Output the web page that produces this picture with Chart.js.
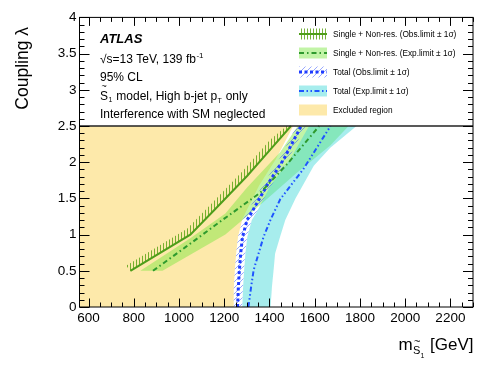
<!DOCTYPE html>
<html lang="en">
<head>
<meta charset="utf-8">
<script src="https://cdn.jsdelivr.net/npm/chart.js@4.4.1/dist/chart.umd.min.js"></script>
<style>
    body { margin: 0; background: #fff; }
    #chartBox { position: relative; width: 498px; height: 366px; }
</style>
</head>
<body>
<div id="chartBox"><canvas id="limitChart" width="498" height="366"></canvas></div>

<script>
    // axis tick labels
    const xTicks = [600, 800, 1000, 1200, 1400, 1600, 1800, 2000, 2200];
    const yTicks = [0, 0.5, 1, 1.5, 2, 2.5, 3, 3.5, 4];

    // Single + Non-res. : observed limit and its hatched side
    const singleObsX = [785, 1050, 1153, 1301, 1419, 1495];
    const singleObsY = [0.5, 1.0, 1.33, 1.81, 2.23, 2.5];
    const singleHatchX = [766, 1036, 1138, 1285, 1403, 1476];
    const singleHatchY = [0.57, 1.08, 1.41, 1.89, 2.31, 2.5];

    // Single + Non-res. : expected limit and ±1σ band
    const singleExpX = [885, 1030, 1200, 1360, 1480, 1620];
    const singleExpY = [0.5, 0.83, 1.22, 1.58, 1.98, 2.5];
    const singleUpX = [829, 1050, 1205, 1301, 1448, 1525];
    const singleUpY = [0.5, 0.95, 1.29, 1.65, 2.14, 2.5];
    const singleDnX = [927, 1205, 1374, 1520, 1669, 1750];
    const singleDnY = [0.5, 1.0, 1.45, 1.85, 2.23, 2.5];

    // Total : observed limit with ±1σ (same couplings for every edge)
    const totalObsY = [0, 0.25, 0.51, 0.75, 0.97, 1.2, 1.31, 1.68, 2.04, 2.5];
    const totalObsX = [1259, 1262, 1267, 1273, 1281, 1301, 1322, 1389, 1463, 1540];
    const totalObsLoX = [1239, 1242, 1247, 1253, 1261, 1281, 1302, 1369, 1443, 1520];
    const totalObsHiX = [1279, 1282, 1287, 1293, 1301, 1321, 1342, 1409, 1483, 1560];
    // excluded region edge
    const excludedX = [1239, 1242, 1247, 1253, 1261, 1279, 1295, 1355, 1428, 1505];

    // Total : expected limit and ±1σ band
    const totalExpX = [1307, 1319, 1330, 1352, 1374, 1404, 1448, 1551, 1670];
    const totalExpY = [0, 0.28, 0.51, 0.74, 0.97, 1.2, 1.49, 1.91, 2.5];
    const totalBandLoX = [1280, 1283, 1288, 1294, 1302, 1322, 1343, 1405, 1492, 1575];
    const totalBandHiX = [1405, 1411, 1418, 1425, 1447, 1470, 1515, 1596, 1669, 1785];
    const totalBandHiY = [0, 0.28, 0.5, 0.74, 0.97, 1.2, 1.5, 1.95, 2.2, 2.5];

    const xMin = 560, xMax = 2300, yMin = 0, yMax = 4, frameCut = 2.5;

    const FONT = '"Liberation Sans", Arial, Helvetica, sans-serif';

    const colYellow = '#fde9aa';
    const colGreenBand = 'rgba(120,230,60,0.45)';
    const colCyanBand = 'rgba(60,215,215,0.45)';
    const colSingleObs = '#4f9e1a';
    const colSingleExp = '#2e9a2e';
    const colTotalObs = '#1f3cff';
    const colTotalExp = '#1f55ff';

    const dashSingleExp = [5, 3, 1.5, 3];
    const dashTotalObs = [3, 2.5];
    const dashTotalExp = [5, 2.5, 1.5, 2.5, 1.5, 2.5];

    function pts(xs, ys) {
        return xs.map((x, i) => ({ x: x, y: ys[i] }));
    }

    function band(xa, ya, xb, yb) {
        return pts(xa, ya).concat(pts(xb, yb).reverse());
    }

    // hatch patterns
    function makePattern(kind) {
        const c = document.createElement('canvas');
        const g = c.getContext('2d');
        if (kind === 'vert') {
            c.width = 3; c.height = 6;
            g.fillStyle = 'rgba(95,165,25,0.85)';
            g.fillRect(1, 0, 1, 6);
        } else {
            c.width = 6; c.height = 6;
            g.strokeStyle = 'rgba(60,90,255,0.75)';
            g.lineWidth = 0.7;
            g.beginPath();
            g.moveTo(-1, 7); g.lineTo(7, -1);
            g.moveTo(-1, 1); g.lineTo(1, -1);
            g.moveTo(5, 7); g.lineTo(7, 5);
            g.stroke();
        }
        return g.createPattern(c, 'repeat');
    }

    const hatchGreen = makePattern('vert');
    const hatchBlue = makePattern('diag');

    const shape = (data, color, order) => ({
        data: data, fill: 'shape', backgroundColor: color,
        borderWidth: 0, borderColor: 'rgba(0,0,0,0)', order: order
    });

    const curve = (data, color, width, dash, order) => ({
        data: data, fill: false, borderColor: color, borderWidth: width,
        borderDash: dash, order: order
    });

    const excludedShape = [{ x: xMin, y: 0 }]
        .concat(pts(excludedX, totalObsY))
        .concat([{ x: xMin, y: frameCut }]);

    const datasets = [
        curve([{ x: xMin, y: frameCut }, { x: xMax, y: frameCut }], '#222', 1.5, [], 0),
        curve(pts(singleObsX, singleObsY), colSingleObs, 2, [], 1),
        curve(pts(singleExpX, singleExpY), colSingleExp, 2, dashSingleExp, 2),
        curve(pts(totalObsX, totalObsY), colTotalObs, 3, dashTotalObs, 3),
        curve(pts(totalExpX, totalExpY), colTotalExp, 2, dashTotalExp, 4),
        shape(band(totalObsLoX, totalObsY, totalObsHiX, totalObsY), hatchBlue, 6),
        shape(band(singleObsX, singleObsY, singleHatchX, singleHatchY), hatchGreen, 7),
        shape(band(totalBandLoX, totalObsY, totalBandHiX, totalBandHiY), colCyanBand, 8),
        shape(band(singleUpX, singleUpY, singleDnX, singleDnY), colGreenBand, 9),
        shape(excludedShape, colYellow, 10)
    ];

    const legendRows = [
        { text: 'Single + Non-res. (Obs.limit \u00b1 1\u03c3)', fill: hatchGreen, line: colSingleObs, width: 2, dash: [] },
        { text: 'Single + Non-res. (Exp.limit \u00b1 1\u03c3)', fill: colGreenBand, line: colSingleExp, width: 2, dash: dashSingleExp },
        { text: 'Total (Obs.limit \u00b1 1\u03c3)', fill: hatchBlue, line: colTotalObs, width: 3, dash: dashTotalObs },
        { text: 'Total (Exp.limit \u00b1 1\u03c3)', fill: colCyanBand, line: colTotalExp, width: 2, dash: dashTotalExp },
        { text: 'Excluded region', fill: colYellow, line: null }
    ];

    function seg(ctx, x1, y1, x2, y2) {
        ctx.beginPath();
        ctx.moveTo(x1, y1);
        ctx.lineTo(x2, y2);
        ctx.stroke();
    }

    const framePlugin = {
        id: 'frame',
        afterDraw(chart) {
            const { ctx, chartArea: a, scales: { x, y } } = chart;
            ctx.save();
            ctx.strokeStyle = '#000';
            ctx.lineWidth = 1;
            ctx.setLineDash([]);
            ctx.strokeRect(a.left, a.top, a.right - a.left, a.bottom - a.top);

            // ticks on all four sides, inside the frame
            for (let v = 600; v <= xMax; v += 50) {
                const px = Math.round(x.getPixelForValue(v)) + 0.5;
                const len = v % 200 === 0 ? 8.5 : 4.5;
                seg(ctx, px, a.bottom, px, a.bottom - len);
                seg(ctx, px, a.top, px, a.top + len);
            }
            for (let i = 0; i <= 40; i++) {
                const py = Math.round(y.getPixelForValue(i / 10)) + 0.5;
                const len = i % 5 === 0 ? 10 : 5;
                seg(ctx, a.left, py, a.left + len, py);
                seg(ctx, a.right, py, a.right - len, py);
            }

            ctx.fillStyle = '#000';
            ctx.textBaseline = 'alphabetic';

            // y title
            ctx.save();
            ctx.translate(28, 27);
            ctx.rotate(-Math.PI / 2);
            ctx.font = '17.5px ' + FONT;
            ctx.textAlign = 'right';
            ctx.fillText('Coupling \u03bb', 0, 0);
            ctx.restore();

            // x title: m with subscript S~1, then [GeV]
            ctx.textAlign = 'left';
            ctx.font = '17px ' + FONT;
            const wm = ctx.measureText('m').width;
            const wGeV = ctx.measureText(' [GeV]').width;
            ctx.font = '11px ' + FONT;
            const wS = ctx.measureText('S').width;
            ctx.font = '7px ' + FONT;
            const w1 = ctx.measureText('1').width;
            let tx = 473 - (wm + wS + w1 + wGeV + 1);
            const ty = 350;
            ctx.font = '17px ' + FONT;
            ctx.fillText('m', tx, ty);
            tx += wm + 0.5;
            ctx.font = '11px ' + FONT;
            ctx.fillText('S', tx, ty + 4);
            ctx.fillText('~', tx + 1, ty - 5);
            tx += wS;
            ctx.font = '7px ' + FONT;
            ctx.fillText('1', tx, ty + 8);
            tx += w1 + 1;
            ctx.font = '17px ' + FONT;
            ctx.fillText(' [GeV]', tx, ty);

            // text block
            const lx = 100;
            ctx.font = 'bold italic 13px ' + FONT;
            ctx.fillText('ATLAS', lx, 42.5);
            ctx.font = '12px ' + FONT;
            let s1 = '\u221as=13 TeV, 139 fb';
            ctx.fillText(s1, lx, 62.5);
            let w = ctx.measureText(s1).width;
            ctx.font = '8px ' + FONT;
            ctx.fillText('-1', lx + w + 0.5, 57.5);
            ctx.font = '12px ' + FONT;
            ctx.fillText('95% CL', lx, 80.5);
            // S~1 model line
            ctx.fillText('S', lx, 99.5);
            const wS2 = ctx.measureText('S').width;
            ctx.font = '9px ' + FONT;
            ctx.fillText('~', lx + 1.5, 89);
            ctx.font = '7px ' + FONT;
            ctx.fillText('1', lx + wS2 + 0.5, 102);
            let cx = lx + wS2 + 5;
            ctx.font = '12px ' + FONT;
            const s2 = ' model, High b-jet p';
            ctx.fillText(s2, cx, 99.5);
            cx += ctx.measureText(s2).width;
            ctx.font = '7px ' + FONT;
            ctx.fillText('T', cx + 0.5, 102.5);
            cx += ctx.measureText('T').width + 1;
            ctx.font = '12px ' + FONT;
            ctx.fillText(' only', cx, 99.5);
            ctx.fillText('Interference with SM neglected', lx, 117.5);

            // legend
            const bx = 299, bw = 28, bh = 11;
            const rowY = [34, 53, 72, 91, 110];
            legendRows.forEach((r, i) => {
                const cy = rowY[i];
                ctx.fillStyle = r.fill;
                ctx.fillRect(bx, cy - bh / 2, bw, bh);
                if (r.line) {
                    ctx.strokeStyle = r.line;
                    ctx.lineWidth = r.width;
                    ctx.setLineDash(r.dash);
                    seg(ctx, bx, cy, bx + bw, cy);
                    ctx.setLineDash([]);
                }
                ctx.fillStyle = '#000';
                ctx.font = '8.3px ' + FONT;
                ctx.fillText(r.text, 333, cy + 3);
            });

            ctx.restore();
        }
    };

    const tickFont = { family: FONT, size: 13.5 };

    new Chart(document.getElementById('limitChart'), {
        type: 'line',
        data: { datasets: datasets },
        options: {
            responsive: false,
            animation: false,
            devicePixelRatio: 1,
            layout: { padding: { top: 17.4, right: 25, left: 0, bottom: 0 } },
            plugins: { legend: { display: false }, tooltip: { enabled: false } },
            elements: { point: { radius: 0, hoverRadius: 0 }, line: { tension: 0 } },
            scales: {
                x: {
                    type: 'linear', min: xMin, max: xMax,
                    grid: { display: false, drawTicks: false },
                    border: { display: false },
                    afterBuildTicks: s => { s.ticks = xTicks.map(v => ({ value: v })); },
                    afterFit: s => { s.height = 59; },
                    ticks: { font: tickFont, color: '#000', padding: 3, maxRotation: 0, autoSkip: false,
                        callback: v => String(v) }
                },
                y: {
                    type: 'linear', min: yMin, max: yMax,
                    grid: { display: false, drawTicks: false },
                    border: { display: false },
                    afterBuildTicks: s => { s.ticks = yTicks.map(v => ({ value: v })); },
                    afterFit: s => { s.width = 79.5; },
                    ticks: { font: tickFont, color: '#000', padding: 3, autoSkip: false,
                        callback: v => String(v) }
                }
            }
        },
        plugins: [framePlugin]
    });
</script>
</body>
</html>
